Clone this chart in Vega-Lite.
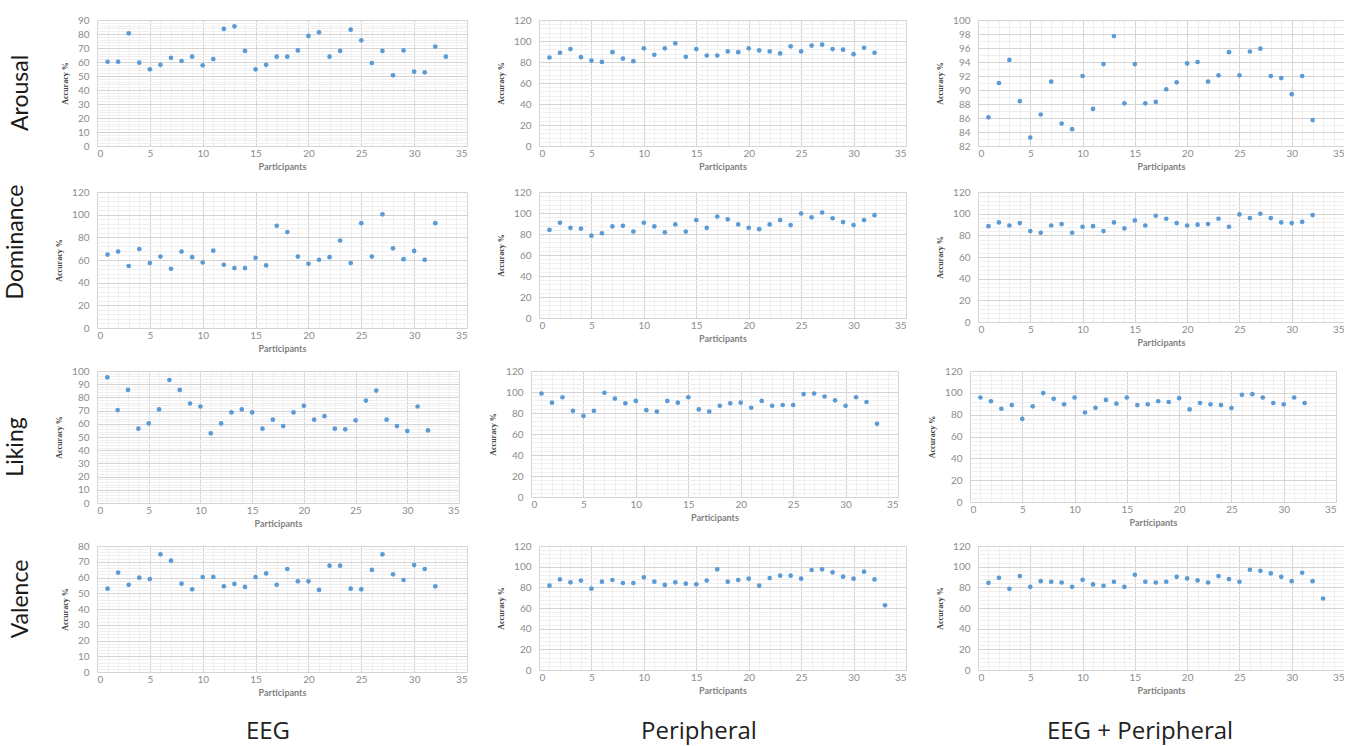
{
"$schema":"https://vega.github.io/schema/vega-lite/v6.json",
"background":"#ffffff",
"padding":{"left":4,"top":15,"right":0,"bottom":0},
"datasets":{
"aro_eeg":[{"p":1,"a":60.2},{"p":2,"a":60.2},{"p":3,"a":80.5},{"p":4,"a":59.5},{"p":5,"a":54.8},{"p":6,"a":58},{"p":7,"a":63},{"p":8,"a":60.7},{"p":9,"a":63.8},{"p":10,"a":57.6},{"p":11,"a":62.1},{"p":12,"a":83.6},{"p":13,"a":85.5},{"p":14,"a":67.9},{"p":15,"a":54.8},{"p":16,"a":58},{"p":17,"a":63.8},{"p":18,"a":63.8},{"p":19,"a":68.3},{"p":20,"a":78.6},{"p":21,"a":81.2},{"p":22,"a":63.8},{"p":23,"a":67.9},{"p":24,"a":83.1},{"p":25,"a":75.5},{"p":26,"a":59.3},{"p":27,"a":67.9},{"p":28,"a":50.5},{"p":29,"a":68.3},{"p":30,"a":53.1},{"p":31,"a":52.6},{"p":32,"a":71},{"p":33,"a":63.8}],
"aro_per":[{"p":1,"a":84.3},{"p":2,"a":88.8},{"p":3,"a":92.3},{"p":4,"a":84.6},{"p":5,"a":81.4},{"p":6,"a":80.1},{"p":7,"a":89.4},{"p":8,"a":83.3},{"p":9,"a":80.8},{"p":10,"a":93},{"p":11,"a":86.9},{"p":12,"a":93},{"p":13,"a":97.8},{"p":14,"a":84.9},{"p":15,"a":92.3},{"p":16,"a":86.2},{"p":17,"a":86.2},{"p":18,"a":90.1},{"p":19,"a":89.4},{"p":20,"a":93},{"p":21,"a":91},{"p":22,"a":90.1},{"p":23,"a":88.2},{"p":24,"a":94.9},{"p":25,"a":90.1},{"p":26,"a":95.6},{"p":27,"a":96.5},{"p":28,"a":92.3},{"p":29,"a":91.7},{"p":30,"a":87.5},{"p":31,"a":93.6},{"p":32,"a":88.8}],
"aro_both":[{"p":1,"a":86.1},{"p":2,"a":91},{"p":3,"a":94.3},{"p":4,"a":88.4},{"p":5,"a":83.2},{"p":6,"a":86.5},{"p":7,"a":91.2},{"p":8,"a":85.2},{"p":9,"a":84.4},{"p":10,"a":92},{"p":11,"a":87.3},{"p":12,"a":93.7},{"p":13,"a":97.7},{"p":14,"a":88.1},{"p":15,"a":93.7},{"p":16,"a":88.1},{"p":17,"a":88.3},{"p":18,"a":90.1},{"p":19,"a":91.1},{"p":20,"a":93.8},{"p":21,"a":94},{"p":22,"a":91.2},{"p":23,"a":92.1},{"p":24,"a":95.4},{"p":25,"a":92.1},{"p":26,"a":95.5},{"p":27,"a":95.9},{"p":28,"a":92},{"p":29,"a":91.7},{"p":30,"a":89.4},{"p":31,"a":92},{"p":32,"a":85.7}],
"dom_eeg":[{"p":1,"a":64.8},{"p":2,"a":67.4},{"p":3,"a":54.7},{"p":4,"a":69.7},{"p":5,"a":57.3},{"p":6,"a":63},{"p":7,"a":52.3},{"p":8,"a":67.4},{"p":9,"a":62.5},{"p":10,"a":57.8},{"p":11,"a":68.2},{"p":12,"a":55.8},{"p":13,"a":52.9},{"p":14,"a":52.9},{"p":15,"a":61.9},{"p":16,"a":55.2},{"p":17,"a":90.2},{"p":18,"a":84.7},{"p":19,"a":63},{"p":20,"a":56.7},{"p":21,"a":60.2},{"p":22,"a":62.5},{"p":23,"a":77.2},{"p":24,"a":57.3},{"p":25,"a":92.5},{"p":26,"a":63},{"p":27,"a":100.3},{"p":28,"a":70.3},{"p":29,"a":60.7},{"p":30,"a":68},{"p":31,"a":60.2},{"p":32,"a":92.5}],
"dom_per":[{"p":1,"a":83.9},{"p":2,"a":90.7},{"p":3,"a":85.9},{"p":4,"a":85.2},{"p":5,"a":78.4},{"p":6,"a":80.7},{"p":7,"a":87.2},{"p":8,"a":87.8},{"p":9,"a":82.3},{"p":10,"a":90.7},{"p":11,"a":87.2},{"p":12,"a":81.6},{"p":13,"a":89.1},{"p":14,"a":82.3},{"p":15,"a":93.3},{"p":16,"a":85.9},{"p":17,"a":96.6},{"p":18,"a":94},{"p":19,"a":89.1},{"p":20,"a":85.9},{"p":21,"a":84.6},{"p":22,"a":89.1},{"p":23,"a":93.3},{"p":24,"a":88.5},{"p":25,"a":99.5},{"p":26,"a":95.9},{"p":27,"a":100.5},{"p":28,"a":95},{"p":29,"a":91.4},{"p":30,"a":88.5},{"p":31,"a":93.3},{"p":32,"a":97.9}],
"dom_both":[{"p":1,"a":88.5},{"p":2,"a":91.9},{"p":3,"a":89.1},{"p":4,"a":91.3},{"p":5,"a":83.9},{"p":6,"a":82.4},{"p":7,"a":89.1},{"p":8,"a":90.4},{"p":9,"a":82.4},{"p":10,"a":87.9},{"p":11,"a":88.5},{"p":12,"a":83.9},{"p":13,"a":91.9},{"p":14,"a":86.4},{"p":15,"a":93.8},{"p":16,"a":89.1},{"p":17,"a":98.1},{"p":18,"a":95.3},{"p":19,"a":91.3},{"p":20,"a":89.1},{"p":21,"a":89.8},{"p":22,"a":90.4},{"p":23,"a":95.3},{"p":24,"a":87.9},{"p":25,"a":99.3},{"p":26,"a":95.9},{"p":27,"a":99.9},{"p":28,"a":95.9},{"p":29,"a":91.9},{"p":30,"a":91.3},{"p":31,"a":92.5},{"p":32,"a":98.7}],
"lik_eeg":[{"p":1,"a":95.2},{"p":2,"a":70.4},{"p":3,"a":85.7},{"p":4,"a":56.3},{"p":5,"a":60.3},{"p":6,"a":70.9},{"p":7,"a":93.2},{"p":8,"a":85.7},{"p":9,"a":75.4},{"p":10,"a":73.1},{"p":11,"a":52.8},{"p":12,"a":60.3},{"p":13,"a":68.6},{"p":14,"a":70.9},{"p":15,"a":68.6},{"p":16,"a":56.3},{"p":17,"a":63.1},{"p":18,"a":58.3},{"p":19,"a":68.6},{"p":20,"a":73.6},{"p":21,"a":63.1},{"p":22,"a":65.8},{"p":23,"a":56.3},{"p":24,"a":55.8},{"p":25,"a":62.6},{"p":26,"a":77.6},{"p":27,"a":85.2},{"p":28,"a":63.1},{"p":29,"a":58.3},{"p":30,"a":54.5},{"p":31,"a":73.1},{"p":32,"a":55}],
"lik_per":[{"p":1,"a":98.6},{"p":2,"a":89.8},{"p":3,"a":95},{"p":4,"a":82.1},{"p":5,"a":77.2},{"p":6,"a":82.1},{"p":7,"a":99.3},{"p":8,"a":93.7},{"p":9,"a":89.2},{"p":10,"a":91.5},{"p":11,"a":82.7},{"p":12,"a":81.4},{"p":13,"a":91.5},{"p":14,"a":89.8},{"p":15,"a":95},{"p":16,"a":83.4},{"p":17,"a":81.4},{"p":18,"a":86.9},{"p":19,"a":89.2},{"p":20,"a":89.8},{"p":21,"a":85},{"p":22,"a":91.5},{"p":23,"a":86.9},{"p":24,"a":87.6},{"p":25,"a":87.6},{"p":26,"a":98},{"p":27,"a":98.6},{"p":28,"a":95.7},{"p":29,"a":92.1},{"p":30,"a":86.9},{"p":31,"a":95},{"p":32,"a":90.5},{"p":33,"a":69.7}],
"lik_both":[{"p":1,"a":95.7},{"p":2,"a":92.3},{"p":3,"a":85.4},{"p":4,"a":88.8},{"p":5,"a":76.1},{"p":6,"a":87.6},{"p":7,"a":99.8},{"p":8,"a":94.5},{"p":9,"a":89.5},{"p":10,"a":95.7},{"p":11,"a":82},{"p":12,"a":86.3},{"p":13,"a":93.5},{"p":14,"a":90.1},{"p":15,"a":95.7},{"p":16,"a":88.8},{"p":17,"a":89.5},{"p":18,"a":92.3},{"p":19,"a":91.6},{"p":20,"a":95.1},{"p":21,"a":84.8},{"p":22,"a":90.7},{"p":23,"a":89.5},{"p":24,"a":88.8},{"p":25,"a":86},{"p":26,"a":98.2},{"p":27,"a":98.8},{"p":28,"a":95.7},{"p":29,"a":90.7},{"p":30,"a":89.5},{"p":31,"a":95.7},{"p":32,"a":90.7}],
"val_eeg":[{"p":1,"a":52.9},{"p":2,"a":63.1},{"p":3,"a":55.4},{"p":4,"a":59.9},{"p":5,"a":59},{"p":6,"a":74.7},{"p":7,"a":70.7},{"p":8,"a":56.1},{"p":9,"a":52.5},{"p":10,"a":60.3},{"p":11,"a":60.3},{"p":12,"a":54.4},{"p":13,"a":55.9},{"p":14,"a":54},{"p":15,"a":60.3},{"p":16,"a":62.6},{"p":17,"a":55.4},{"p":18,"a":65.4},{"p":19,"a":57.6},{"p":20,"a":57.6},{"p":21,"a":52.1},{"p":22,"a":67.5},{"p":23,"a":67.5},{"p":24,"a":52.9},{"p":25,"a":52.5},{"p":26,"a":64.8},{"p":27,"a":74.7},{"p":28,"a":62},{"p":29,"a":58.4},{"p":30,"a":67.9},{"p":31,"a":65.4},{"p":32,"a":54.4}],
"val_per":[{"p":1,"a":81.6},{"p":2,"a":87.7},{"p":3,"a":84.8},{"p":4,"a":86.5},{"p":5,"a":78.7},{"p":6,"a":85.5},{"p":7,"a":87.1},{"p":8,"a":84.2},{"p":9,"a":84.2},{"p":10,"a":89.7},{"p":11,"a":85.5},{"p":12,"a":82.3},{"p":13,"a":84.8},{"p":14,"a":83.5},{"p":15,"a":82.9},{"p":16,"a":86.5},{"p":17,"a":97.4},{"p":18,"a":85.5},{"p":19,"a":87.1},{"p":20,"a":88.4},{"p":21,"a":81.6},{"p":22,"a":89},{"p":23,"a":91.3},{"p":24,"a":91.3},{"p":25,"a":88.4},{"p":26,"a":96.8},{"p":27,"a":97.4},{"p":28,"a":94.5},{"p":29,"a":90.3},{"p":30,"a":88.4},{"p":31,"a":95.2},{"p":32,"a":87.7},{"p":33,"a":62.6}],
"val_both":[{"p":1,"a":84.4},{"p":2,"a":89.3},{"p":3,"a":78.6},{"p":4,"a":90.9},{"p":5,"a":80.5},{"p":6,"a":86},{"p":7,"a":85.4},{"p":8,"a":84.7},{"p":9,"a":80.5},{"p":10,"a":87.3},{"p":11,"a":82.8},{"p":12,"a":81.5},{"p":13,"a":85.4},{"p":14,"a":80.5},{"p":15,"a":92.2},{"p":16,"a":85.4},{"p":17,"a":84.7},{"p":18,"a":85.4},{"p":19,"a":90.2},{"p":20,"a":88.6},{"p":21,"a":86.7},{"p":22,"a":84.7},{"p":23,"a":90.9},{"p":24,"a":88},{"p":25,"a":85.4},{"p":26,"a":97},{"p":27,"a":96},{"p":28,"a":93.5},{"p":29,"a":90.2},{"p":30,"a":86},{"p":31,"a":94.1},{"p":32,"a":86},{"p":33,"a":69.2}],
"lab1":[{"t":"EEG"}],"lab2":[{"t":"Peripheral"}],"lab3":[{"t":"EEG + Peripheral"}]
},
"spacing":13,
"vconcat":[
{"title":{"text":"Arousal","orient":"left","anchor":"middle","offset":28},"spacing":30,"hconcat":[
{"data":{"name":"aro_eeg"},"width":370,"height":126,"mark":"circle","encoding":{
"x":{"field":"p","type":"quantitative","scale":{"domain":[0,35],"nice":false},"axis":{"title":"Participants","tickCount":35,"labelExpr":"datum.value % 5 === 0 ? datum.label : ''","gridColor":{"condition":{"test":"datum.value % 5 === 0","value":"#d4d4d4"},"value":"#efefef"}}},
"y":{"field":"a","type":"quantitative","scale":{"domain":[0,90],"nice":false,"zero":false},"axis":{"title":"Accuracy %","tickCount":45,"labelExpr":"datum.value % 10 === 0 ? datum.label : ''","gridColor":{"condition":{"test":"datum.value % 10 === 0","value":"#d4d4d4"},"value":"#efefef"}}}}},
{"data":{"name":"aro_per"},"width":367,"height":126,"mark":"circle","encoding":{
"x":{"field":"p","type":"quantitative","scale":{"domain":[0,35],"nice":false},"axis":{"title":"Participants","tickCount":35,"labelExpr":"datum.value % 5 === 0 ? datum.label : ''","gridColor":{"condition":{"test":"datum.value % 5 === 0","value":"#d4d4d4"},"value":"#efefef"}}},
"y":{"field":"a","type":"quantitative","scale":{"domain":[0,120],"nice":false,"zero":false},"axis":{"title":"Accuracy %","values":[0,4,8,12,16,20,24,28,32,36,40,44,48,52,56,60,64,68,72,76,80,84,88,92,96,100,104,108,112,116,120],"labelExpr":"datum.value % 20 === 0 ? datum.label : ''","gridColor":{"condition":{"test":"datum.value % 20 === 0","value":"#d4d4d4"},"value":"#efefef"}}}}},
{"data":{"name":"aro_both"},"width":366,"height":126,"mark":"circle","encoding":{
"x":{"field":"p","type":"quantitative","scale":{"domain":[0,35],"nice":false},"axis":{"title":"Participants","tickCount":35,"labelExpr":"datum.value % 5 === 0 ? datum.label : ''","gridColor":{"condition":{"test":"datum.value % 5 === 0","value":"#d4d4d4"},"value":"#efefef"}}},
"y":{"field":"a","type":"quantitative","scale":{"domain":[82,100],"nice":false,"zero":false},"axis":{"title":"Accuracy %","tickCount":36,"format":"d","labelExpr":"datum.value % 2 === 0 ? datum.label : ''","gridColor":{"condition":{"test":"datum.value % 2 === 0","value":"#d4d4d4"},"value":"#efefef"}}}}}
]},
{"title":{"text":"Dominance","orient":"left","anchor":"middle","offset":28,"dx":28},"spacing":30,"hconcat":[
{"data":{"name":"dom_eeg"},"width":370,"height":136,"mark":"circle","encoding":{
"x":{"field":"p","type":"quantitative","scale":{"domain":[0,35],"nice":false},"axis":{"title":"Participants","tickCount":35,"labelExpr":"datum.value % 5 === 0 ? datum.label : ''","gridColor":{"condition":{"test":"datum.value % 5 === 0","value":"#d4d4d4"},"value":"#efefef"}}},
"y":{"field":"a","type":"quantitative","scale":{"domain":[0,120],"nice":false,"zero":false},"axis":{"title":"Accuracy %","values":[0,4,8,12,16,20,24,28,32,36,40,44,48,52,56,60,64,68,72,76,80,84,88,92,96,100,104,108,112,116,120],"labelExpr":"datum.value % 20 === 0 ? datum.label : ''","gridColor":{"condition":{"test":"datum.value % 20 === 0","value":"#d4d4d4"},"value":"#efefef"}}}}},
{"data":{"name":"dom_per"},"width":367,"height":126,"mark":"circle","encoding":{
"x":{"field":"p","type":"quantitative","scale":{"domain":[0,35],"nice":false},"axis":{"title":"Participants","tickCount":35,"labelExpr":"datum.value % 5 === 0 ? datum.label : ''","gridColor":{"condition":{"test":"datum.value % 5 === 0","value":"#d4d4d4"},"value":"#efefef"}}},
"y":{"field":"a","type":"quantitative","scale":{"domain":[0,120],"nice":false,"zero":false},"axis":{"title":"Accuracy %","values":[0,4,8,12,16,20,24,28,32,36,40,44,48,52,56,60,64,68,72,76,80,84,88,92,96,100,104,108,112,116,120],"labelExpr":"datum.value % 20 === 0 ? datum.label : ''","gridColor":{"condition":{"test":"datum.value % 20 === 0","value":"#d4d4d4"},"value":"#efefef"}}}}},
{"data":{"name":"dom_both"},"width":366,"height":130,"mark":"circle","encoding":{
"x":{"field":"p","type":"quantitative","scale":{"domain":[0,35],"nice":false},"axis":{"title":"Participants","tickCount":35,"labelExpr":"datum.value % 5 === 0 ? datum.label : ''","gridColor":{"condition":{"test":"datum.value % 5 === 0","value":"#d4d4d4"},"value":"#efefef"}}},
"y":{"field":"a","type":"quantitative","scale":{"domain":[0,120],"nice":false,"zero":false},"axis":{"title":"Accuracy %","values":[0,4,8,12,16,20,24,28,32,36,40,44,48,52,56,60,64,68,72,76,80,84,88,92,96,100,104,108,112,116,120],"labelExpr":"datum.value % 20 === 0 ? datum.label : ''","gridColor":{"condition":{"test":"datum.value % 20 === 0","value":"#d4d4d4"},"value":"#efefef"}}}}}
]},
{"title":{"text":"Liking","orient":"left","anchor":"middle","offset":28},"spacing":30,"hconcat":[
{"data":{"name":"lik_eeg"},"width":362,"height":132,"mark":"circle","encoding":{
"x":{"field":"p","type":"quantitative","scale":{"domain":[0,35],"nice":false},"axis":{"title":"Participants","tickCount":35,"labelExpr":"datum.value % 5 === 0 ? datum.label : ''","gridColor":{"condition":{"test":"datum.value % 5 === 0","value":"#d4d4d4"},"value":"#efefef"}}},
"y":{"field":"a","type":"quantitative","scale":{"domain":[0,100],"nice":false,"zero":false},"axis":{"title":"Accuracy %","tickCount":50,"labelExpr":"datum.value % 10 === 0 ? datum.label : ''","gridColor":{"condition":{"test":"datum.value % 10 === 0","value":"#d4d4d4"},"value":"#efefef"}}}}},
{"data":{"name":"lik_per"},"width":367,"height":126,"mark":"circle","encoding":{
"x":{"field":"p","type":"quantitative","scale":{"domain":[0,35],"nice":false},"axis":{"title":"Participants","tickCount":35,"labelExpr":"datum.value % 5 === 0 ? datum.label : ''","gridColor":{"condition":{"test":"datum.value % 5 === 0","value":"#d4d4d4"},"value":"#efefef"}}},
"y":{"field":"a","type":"quantitative","scale":{"domain":[0,120],"nice":false,"zero":false},"axis":{"title":"Accuracy %","values":[0,4,8,12,16,20,24,28,32,36,40,44,48,52,56,60,64,68,72,76,80,84,88,92,96,100,104,108,112,116,120],"labelExpr":"datum.value % 20 === 0 ? datum.label : ''","gridColor":{"condition":{"test":"datum.value % 20 === 0","value":"#d4d4d4"},"value":"#efefef"}}}}},
{"data":{"name":"lik_both"},"width":366,"height":131,"mark":"circle","encoding":{
"x":{"field":"p","type":"quantitative","scale":{"domain":[0,35],"nice":false},"axis":{"title":"Participants","tickCount":35,"labelExpr":"datum.value % 5 === 0 ? datum.label : ''","gridColor":{"condition":{"test":"datum.value % 5 === 0","value":"#d4d4d4"},"value":"#efefef"}}},
"y":{"field":"a","type":"quantitative","scale":{"domain":[0,120],"nice":false,"zero":false},"axis":{"title":"Accuracy %","values":[0,4,8,12,16,20,24,28,32,36,40,44,48,52,56,60,64,68,72,76,80,84,88,92,96,100,104,108,112,116,120],"labelExpr":"datum.value % 20 === 0 ? datum.label : ''","gridColor":{"condition":{"test":"datum.value % 20 === 0","value":"#d4d4d4"},"value":"#efefef"}}}}}
]},
{"title":{"text":"Valence","orient":"left","anchor":"middle","offset":28,"dx":20},"spacing":30,"hconcat":[
{"data":{"name":"val_eeg"},"width":370,"height":126,"mark":"circle","encoding":{
"x":{"field":"p","type":"quantitative","scale":{"domain":[0,35],"nice":false},"axis":{"title":"Participants","tickCount":35,"labelExpr":"datum.value % 5 === 0 ? datum.label : ''","gridColor":{"condition":{"test":"datum.value % 5 === 0","value":"#d4d4d4"},"value":"#efefef"}}},
"y":{"field":"a","type":"quantitative","scale":{"domain":[0,80],"nice":false,"zero":false},"axis":{"title":"Accuracy %","tickCount":40,"labelExpr":"datum.value % 10 === 0 ? datum.label : ''","gridColor":{"condition":{"test":"datum.value % 10 === 0","value":"#d4d4d4"},"value":"#efefef"}}}}},
{"data":{"name":"val_per"},"width":367,"height":124,"mark":"circle","encoding":{
"x":{"field":"p","type":"quantitative","scale":{"domain":[0,35],"nice":false},"axis":{"title":"Participants","tickCount":35,"labelExpr":"datum.value % 5 === 0 ? datum.label : ''","gridColor":{"condition":{"test":"datum.value % 5 === 0","value":"#d4d4d4"},"value":"#efefef"}}},
"y":{"field":"a","type":"quantitative","scale":{"domain":[0,120],"nice":false,"zero":false},"axis":{"title":"Accuracy %","values":[0,4,8,12,16,20,24,28,32,36,40,44,48,52,56,60,64,68,72,76,80,84,88,92,96,100,104,108,112,116,120],"labelExpr":"datum.value % 20 === 0 ? datum.label : ''","gridColor":{"condition":{"test":"datum.value % 20 === 0","value":"#d4d4d4"},"value":"#efefef"}}}}},
{"data":{"name":"val_both"},"width":366,"height":124,"mark":"circle","encoding":{
"x":{"field":"p","type":"quantitative","scale":{"domain":[0,35],"nice":false},"axis":{"title":"Participants","tickCount":35,"labelExpr":"datum.value % 5 === 0 ? datum.label : ''","gridColor":{"condition":{"test":"datum.value % 5 === 0","value":"#d4d4d4"},"value":"#efefef"}}},
"y":{"field":"a","type":"quantitative","scale":{"domain":[0,120],"nice":false,"zero":false},"axis":{"title":"Accuracy %","values":[0,4,8,12,16,20,24,28,32,36,40,44,48,52,56,60,64,68,72,76,80,84,88,92,96,100,104,108,112,116,120],"labelExpr":"datum.value % 20 === 0 ? datum.label : ''","gridColor":{"condition":{"test":"datum.value % 20 === 0","value":"#d4d4d4"},"value":"#efefef"}}}}}
]},
{"spacing":0,"hconcat":[
{"data":{"name":"lab1"},"width":342,"height":44,"mark":{"type":"text","fontSize":24,"font":"Open Sans","color":"#222222"},"encoding":{"text":{"field":"t"}}},
{"data":{"name":"lab2"},"width":520,"height":44,"mark":{"type":"text","fontSize":24,"font":"Open Sans","color":"#222222"},"encoding":{"text":{"field":"t"}}},
{"data":{"name":"lab3"},"width":362,"height":44,"mark":{"type":"text","fontSize":24,"font":"Open Sans","color":"#222222"},"encoding":{"text":{"field":"t"}}}
]}
],
"config":{
"view":{"stroke":null},
"circle":{"size":22,"color":"#5B9BD5","opacity":1},
"axis":{"ticks":false,"domain":false,"labelColor":"#8c8c8c","labelFont":"Lato","labelFontSize":10,"titleFont":"Lato","titleFontSize":9,"titleColor":"#7f7f7f","titleFontWeight":"bold","labelOverlap":false,"gridOpacity":1,"gridWidth":1},
"axisY":{"titleColor":"#404040","titleFont":"Liberation Sans Narrow","titleFontSize":8,"labelPadding":8,"titlePadding":8},
"axisX":{"labelPadding":2,"titlePadding":4},
"title":{"fontSize":23,"font":"Lato","fontWeight":"normal","color":"#1a1a1a"}
}
}
